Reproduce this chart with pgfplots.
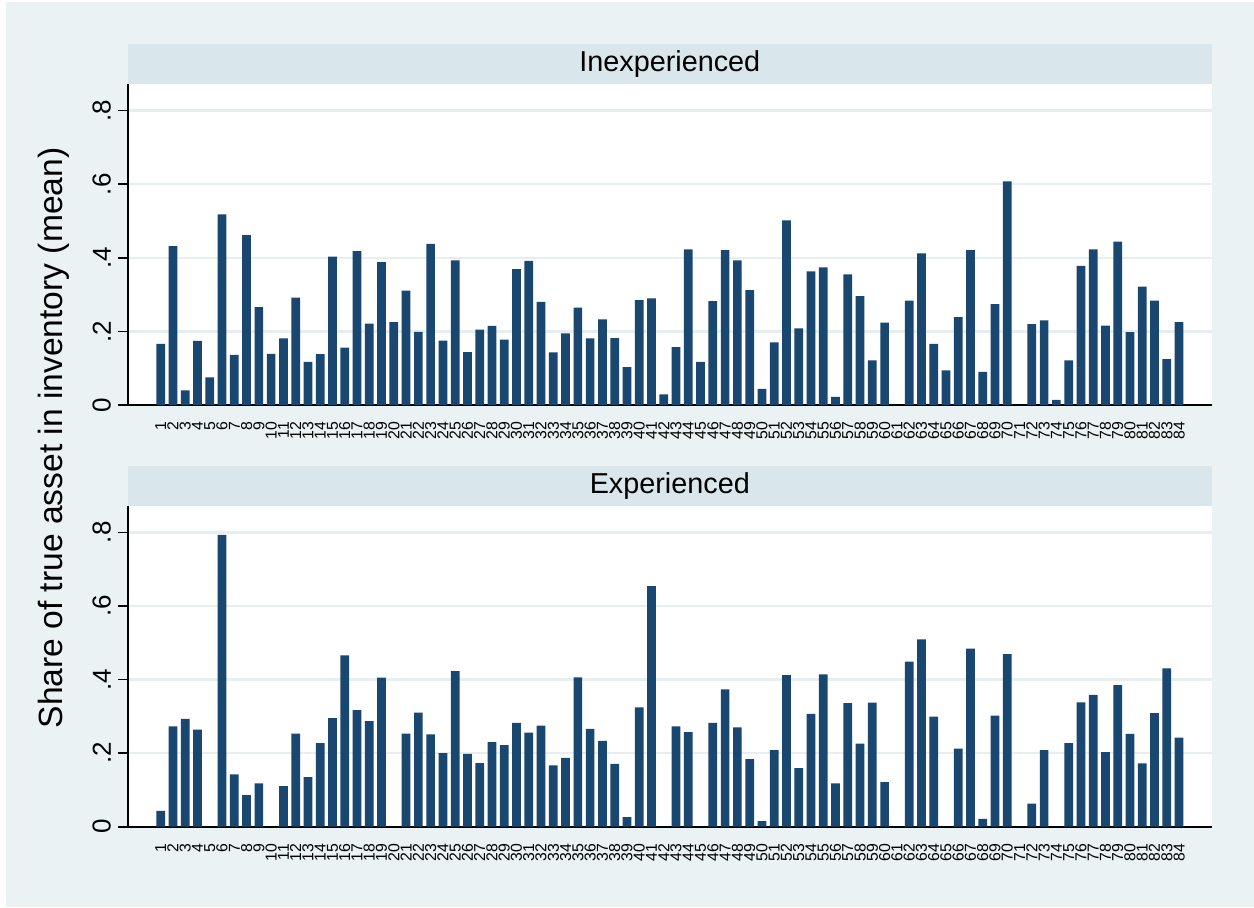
\documentclass[border=0pt]{standalone}
\usepackage{fontspec}
\setmainfont{Liberation Sans}
\usepackage{pgfplots}
\usepackage{pgfplotstable}
\pgfplotsset{compat=1.18}
\definecolor{barc}{HTML}{1A476F}
\definecolor{bgc}{HTML}{EAF2F3}
\definecolor{hdrc}{HTML}{D9E6EB}
\definecolor{gridc}{HTML}{E6EEF0}

\pgfplotstableread{
cat val
1 0.166
2 0.432
3 0.040
4 0.174
5 0.075
6 0.518
7 0.136
8 0.462
9 0.266
10 0.139
11 0.181
12 0.292
13 0.117
14 0.138
15 0.403
16 0.156
17 0.418
18 0.221
19 0.388
20 0.225
21 0.311
22 0.199
23 0.438
24 0.175
25 0.393
26 0.144
27 0.205
28 0.215
29 0.178
30 0.369
31 0.392
32 0.280
33 0.143
34 0.195
35 0.265
36 0.181
37 0.233
38 0.182
39 0.103
40 0.285
41 0.290
42 0.029
43 0.157
44 0.423
45 0.117
46 0.282
47 0.421
48 0.393
49 0.312
50 0.044
51 0.170
52 0.502
53 0.208
54 0.363
55 0.374
56 0.022
57 0.355
58 0.296
59 0.121
60 0.224
61 0
62 0.284
63 0.412
64 0.166
65 0.094
66 0.239
67 0.421
68 0.090
69 0.274
70 0.608
71 0
72 0.220
73 0.230
74 0.014
75 0.121
76 0.378
77 0.423
78 0.216
79 0.444
80 0.198
81 0.322
82 0.284
83 0.125
84 0.225
}\inexp

\pgfplotstableread{
cat val
1 0.043
2 0.273
3 0.293
4 0.264
5 0
6 0.793
7 0.142
8 0.086
9 0.118
10 0
11 0.110
12 0.253
13 0.135
14 0.227
15 0.295
16 0.466
17 0.317
18 0.287
19 0.405
20 0
21 0.253
22 0.310
23 0.251
24 0.200
25 0.423
26 0.198
27 0.173
28 0.230
29 0.222
30 0.282
31 0.256
32 0.275
33 0.167
34 0.187
35 0.406
36 0.266
37 0.233
38 0.171
39 0.026
40 0.324
41 0.654
42 0
43 0.273
44 0.257
45 0
46 0.282
47 0.373
48 0.270
49 0.184
50 0.015
51 0.208
52 0.412
53 0.159
54 0.307
55 0.414
56 0.118
57 0.336
58 0.226
59 0.337
60 0.121
61 0
62 0.449
63 0.509
64 0.299
65 0
66 0.212
67 0.484
68 0.021
69 0.302
70 0.469
71 0
72 0.063
73 0.208
74 0
75 0.227
76 0.338
77 0.358
78 0.203
79 0.385
80 0.252
81 0.172
82 0.309
83 0.430
84 0.242
}\exper

\pgfplotsset{panel/.style={
  scale only axis, width=541.85pt, height=160.5pt,
  anchor=south west,
  xmin=-1.665, xmax=86.66, ymin=0, ymax=0.8725,
  ybar, bar width=0.71,
  axis x line*=bottom, axis y line*=left,
  every outer x axis line/.append style={-},
  every outer y axis line/.append style={-},
  axis line style={-, black, line width=0.8pt},
  axis background/.style={fill=white},
  ytick={0,0.2,0.4,0.6,0.8}, yticklabels={0,.2,.4,.6,.8},
  xtick={1,...,84},
  major tick length=5pt, tick align=outside,
  xtick style={draw=none},
  ytick style={black, line width=0.8pt},
  ymajorgrids, grid style={gridc, line width=1.2pt},
  /pgf/number format/assume math mode=true,
  yticklabel style={rotate=90, anchor=south, font=\fontsize{13}{15}\selectfont},
  xticklabel style={rotate=90, anchor=east, font=\fontsize{7.9}{9}\selectfont},
}}

\begin{document}
\begin{tikzpicture}[x=1pt,y=1pt]
\useasboundingbox (0,0) rectangle (627,453.5);
\fill[white] (0,0) rectangle (627,453.5);
\fill[bgc] (3,0) rectangle (627,452.5);
\fill[hdrc] (64,411.5) rectangle (605.85,431.5);
\node[anchor=base, font=\fontsize{14.4}{17}\selectfont, inner sep=0] at (334.9,417.65) {Inexperienced};
\fill[hdrc] (64,200.5) rectangle (605.85,220.5);
\node[anchor=base, font=\fontsize{14.4}{17}\selectfont, inner sep=0] at (334.9,206.65) {Experienced};
\begin{axis}[panel, at={(64pt,251pt)}]
\addplot[fill=barc, draw=none] table[x=cat, y=val] {\inexp};
\end{axis}
\begin{axis}[panel, at={(64pt,40.15pt)}]
\addplot[fill=barc, draw=none] table[x=cat, y=val] {\exper};
\end{axis}
\node[rotate=90, anchor=base, inner sep=0, font=\fontsize{16.8}{19}\selectfont] at (31,234.5) {Share of true asset in inventory (mean)};
\end{tikzpicture}
\end{document}
